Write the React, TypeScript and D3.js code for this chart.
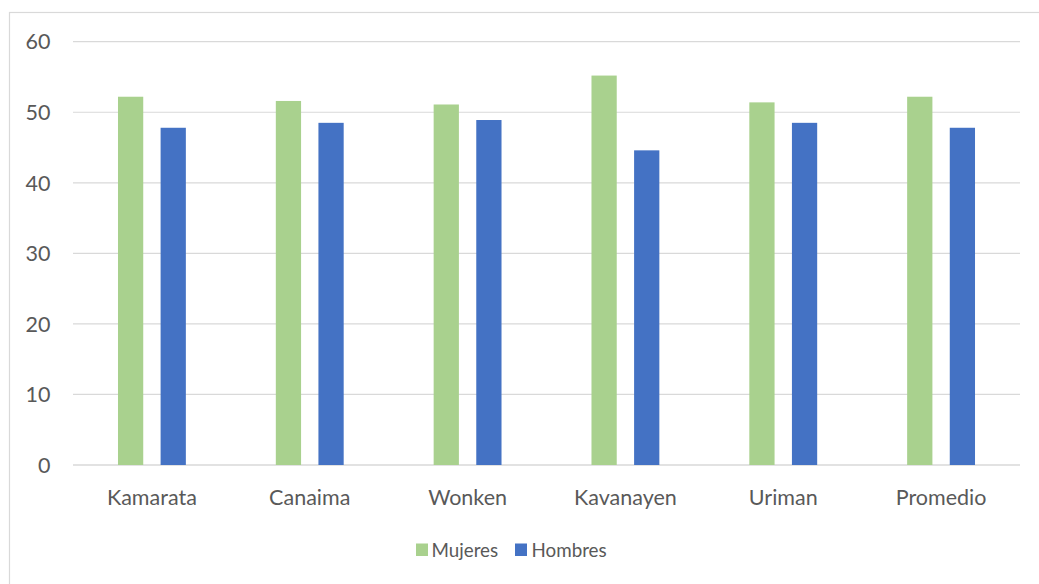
import React from "react";
import * as d3 from "d3";

const categories = ["Kamarata", "Canaima", "Wonken", "Kavanayen", "Uriman", "Promedio"];
const mujeres = [52.2, 51.6, 51.1, 55.2, 51.4, 52.2];
const hombres = [47.8, 48.5, 48.9, 44.6, 48.5, 47.8];
const yTicks = [0, 10, 20, 30, 40, 50, 60];
const seriesNames = ["Mujeres", "Hombres"];
const seriesColors = ["#A9D18E", "#4472C4"];

const W = 1039;
const H = 584;
const plot = { left: 73, right: 1020, top: 41.7, bottom: 465 };
const FONT = "Lato, 'Open Sans', sans-serif";

export default function App() {
  const x = d3.scaleBand<string>().domain(categories).range([plot.left, plot.right]);
  const y = d3.scaleLinear().domain([0, 60]).range([plot.bottom, plot.top]);
  const band = x.bandwidth();
  const barW = band * 0.16;
  const offset = band * 0.135;
  const series = [mujeres, hombres];

  return (
    <svg
      width={W}
      height={H}
      style={{ position: "absolute", left: 0, top: 0, background: "#fff" }}
      fontFamily={FONT}
    >
      <rect x={9.5} y={12.5} width={W + 20} height={H} fill="#fff" stroke="#d9d9d9" strokeWidth={1.2} />
      {yTicks.map((t) => (
        <g key={t}>
          <line
            x1={plot.left}
            x2={plot.right}
            y1={y(t)}
            y2={y(t)}
            stroke="#d9d9d9"
            strokeWidth={t === 0 ? 1.5 : 1.2}
          />
          <text
            x={50.5}
            y={y(t)}
            dy="0.36em"
            textAnchor="end"
            fontSize={21.5}
            fill="#595959"
          >
            {t}
          </text>
        </g>
      ))}
      {categories.map((c, i) => {
        const cx = (x(c) as number) + band / 2;
        return (
          <g key={c}>
            {series.map((vals, s) => {
              const bx = cx + (s === 0 ? -offset : offset) - barW / 2;
              return (
                <rect
                  key={s}
                  x={bx}
                  y={y(vals[i])}
                  width={barW}
                  height={y(0) - y(vals[i])}
                  fill={seriesColors[s]}
                />
              );
            })}
            <text x={cx} y={497} dy="0.36em" textAnchor="middle" fontSize={21.5} fill="#595959">
              {c}
            </text>
          </g>
        );
      })}
      <g>
        <rect x={416} y={543.5} width={12} height={12.5} fill={seriesColors[0]} />
        <text x={431.5} y={550} dy="0.36em" fontSize={18.8} fill="#595959">
          {seriesNames[0]}
        </text>
        <rect x={515} y={543.5} width={12} height={12.5} fill={seriesColors[1]} />
        <text x={531.5} y={550} dy="0.36em" fontSize={18.8} fill="#595959">
          {seriesNames[1]}
        </text>
      </g>
    </svg>
  );
}
